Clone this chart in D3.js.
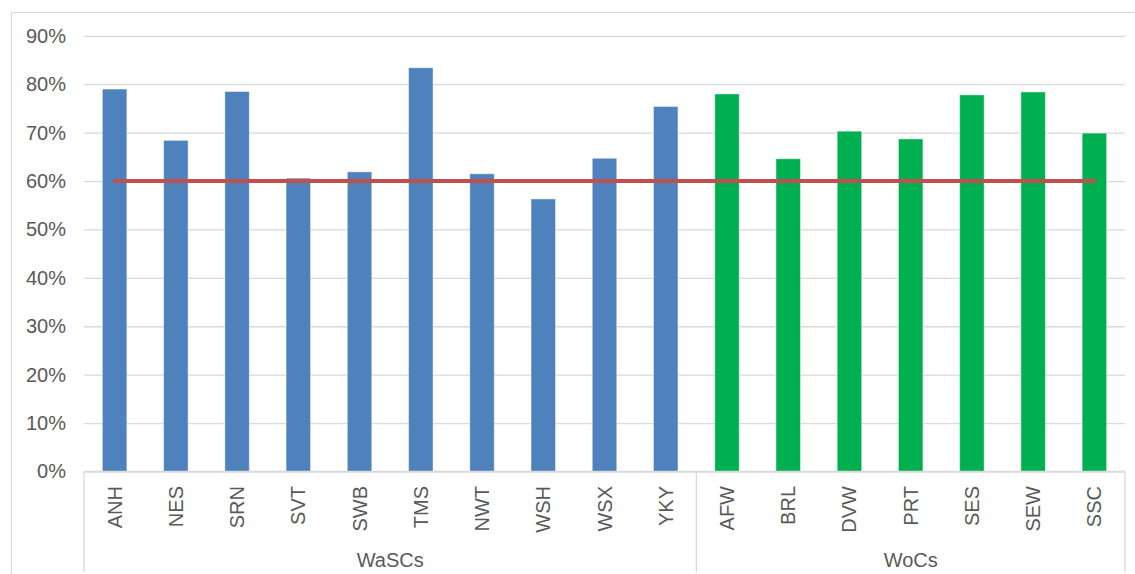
<!DOCTYPE html>
<html>
<head>
<meta charset="utf-8">
<script src="https://cdn.jsdelivr.net/npm/d3@7"></script>
<style>
  html, body { margin: 0; padding: 0; background: #fff; }
  svg { display: block; font-family: "Liberation Sans", Arial, sans-serif; }
</style>
</head>
<body>
<svg id="chart" width="1135" height="574"></svg>
<script>
const categories = ["ANH","NES","SRN","SVT","SWB","TMS","NWT","WSH","WSX","YKY","AFW","BRL","DVW","PRT","SES","SEW","SSC"];
const groups = ["WaSCs","WaSCs","WaSCs","WaSCs","WaSCs","WaSCs","WaSCs","WaSCs","WaSCs","WaSCs","WoCs","WoCs","WoCs","WoCs","WoCs","WoCs","WoCs"];
const values = [0.790,0.684,0.785,0.606,0.619,0.834,0.615,0.563,0.647,0.754,0.780,0.646,0.703,0.687,0.778,0.784,0.699];
const target = [0.60,0.60,0.60,0.60,0.60,0.60,0.60,0.60,0.60,0.60,0.60,0.60,0.60,0.60,0.60,0.60,0.60];
const yTicks = [0,0.1,0.2,0.3,0.4,0.5,0.6,0.7,0.8,0.9];
const groupColors = { "WaSCs": "#4f81bd", "WoCs": "#00b050" };

(function () {
const svg = d3.select("#chart");
const pLeft = 84, pRight = 1125, pTop = 35.8, pBottom = 471.5;

const x = d3.scaleBand().domain(categories).range([pLeft, pRight]).paddingInner(0.6).paddingOuter(0.3);
const xc = d => x(d) + x.bandwidth() / 2;
const y = d3.scaleLinear().domain([0, 0.9]).range([pBottom, pTop]);

// outer chart border
svg.append("rect").attr("x", 11.5).attr("y", 12.5).attr("width", 1135).attr("height", 600)
  .attr("fill", "none").attr("stroke", "#d9d9d9").attr("stroke-width", 1.2);

// gridlines + y labels
const yAxis = d3.axisLeft(y).tickValues(yTicks).tickFormat(d3.format(".0%")).tickSize(-(pRight - pLeft)).tickPadding(18);
const gy = svg.append("g").attr("transform", `translate(${pLeft},0)`).call(yAxis);
gy.select(".domain").remove();
gy.selectAll(".tick line").attr("stroke", "#d9d9d9").attr("stroke-width", 1.3);
gy.selectAll(".tick text").attr("fill", "#595959").attr("font-size", 20)
  .attr("font-family", "'Liberation Sans', Arial, sans-serif");

// bars
svg.append("g").selectAll("rect").data(categories).join("rect")
  .attr("x", d => x(d))
  .attr("y", (d, i) => y(values[i]))
  .attr("width", x.bandwidth())
  .attr("height", (d, i) => y(0) - y(values[i]))
  .attr("fill", (d, i) => groupColors[groups[i]])
  .attr("stroke", "rgba(255,255,255,0.45)").attr("stroke-width", 1);

// category axis line and separators
const full = x.step();
const axisG = svg.append("g");
axisG.append("line").attr("x1", pLeft).attr("x2", pRight).attr("y1", pBottom).attr("y2", pBottom)
  .attr("stroke", "#d9d9d9").attr("stroke-width", 1.3);
const groupNames = Array.from(new Set(groups));
const groupBounds = groupNames.map(g => {
  const idx = groups.map((v, i) => v === g ? i : -1).filter(i => i >= 0);
  const x0 = pLeft + idx[0] * full;
  const x1 = pLeft + (idx[idx.length - 1] + 1) * full;
  return { g, x0, x1 };
});
const seps = [pLeft, ...groupBounds.map(b => b.x1)];
axisG.selectAll("line.sep").data(seps).join("line").attr("class", "sep")
  .attr("x1", d => d).attr("x2", d => d).attr("y1", pBottom).attr("y2", 572)
  .attr("stroke", "#d9d9d9").attr("stroke-width", 1.3);

// category labels (rotated)
axisG.selectAll("text.cat").data(categories).join("text").attr("class", "cat")
  .attr("transform", d => `translate(${xc(d) + 7},486) rotate(-90)`)
  .attr("text-anchor", "end").attr("fill", "#595959").attr("font-size", 20)
  .text(d => d);

// group labels
axisG.selectAll("text.grp").data(groupBounds).join("text").attr("class", "grp")
  .attr("x", d => (d.x0 + d.x1) / 2).attr("y", 567)
  .attr("text-anchor", "middle").attr("fill", "#595959").attr("font-size", 20)
  .text(d => d.g);

// target line
const line = d3.line().x((d, i) => xc(categories[i])).y(d => y(d));
svg.append("path").datum(target).attr("d", line)
  .attr("fill", "none").attr("stroke", "#c0504d").attr("stroke-width", 4).attr("stroke-linecap", "round");
})();
</script>
</body>
</html>
